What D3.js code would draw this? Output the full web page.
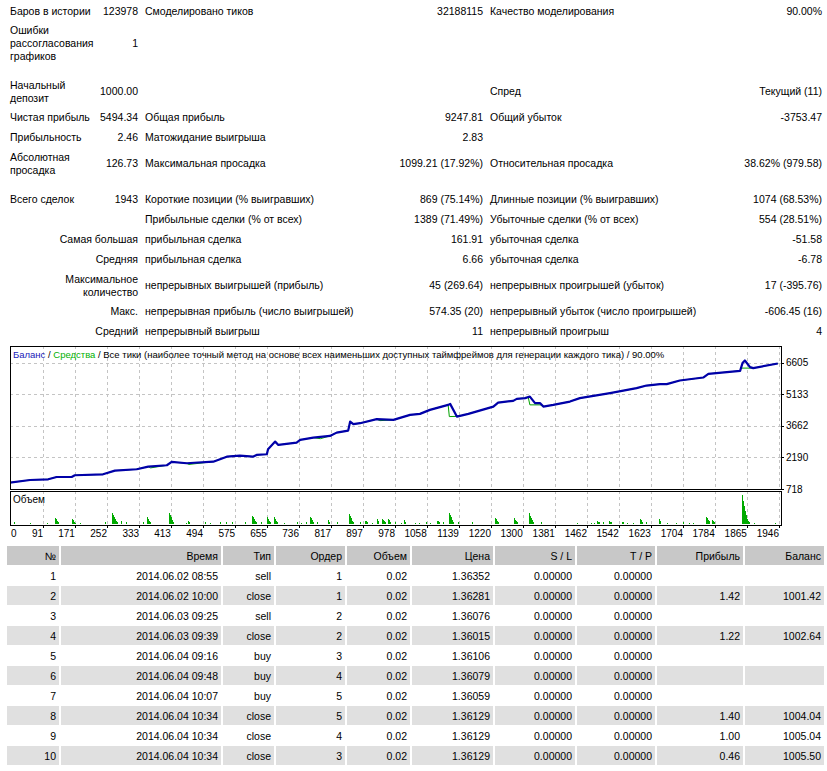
<!doctype html>
<html lang="ru">
<head>
<meta charset="utf-8">
<title>Отчет тестера</title>
<style>
  body { margin: 0; background: #fff; }
  svg { display: block; font-family: "Liberation Sans", Arial, sans-serif; font-size: 10.5px; }
</style>
</head>
<body>
<div id="report"></div>
<script src="https://cdnjs.cloudflare.com/ajax/libs/d3/7.8.5/d3.min.js"></script>
<script>
// summary rows: label1, value1, label2, value2, label3, value3 (null = spacer row)
var statRows = [
  [["Баров в истории"], "123978", "Смоделировано тиков", "32188115", "Качество моделирования", "90.00%"],
  [["Ошибки", "рассогласования", "графиков"], "1", "", "", "", ""],
  null,
  [["Начальный", "депозит"], "1000.00", "", "", "Спред", "Текущий (11)"],
  [["Чистая прибыль"], "5494.34", "Общая прибыль", "9247.81", "Общий убыток", "-3753.47"],
  [["Прибыльность"], "2.46", "Матожидание выигрыша", "2.83", "", ""],
  [["Абсолютная", "просадка"], "126.73", "Максимальная просадка", "1099.21 (17.92%)", "Относительная просадка", "38.62% (979.58)"],
  null,
  [["Всего сделок"], "1943", "Короткие позиции (% выигравших)", "869 (75.14%)", "Длинные позиции (% выигравших)", "1074 (68.53%)"],
  [[""], "", "Прибыльные сделки (% от всех)", "1389 (71.49%)", "Убыточные сделки (% от всех)", "554 (28.51%)"],
  [["Самая большая"], "", "прибыльная сделка", "161.91", "убыточная сделка", "-51.58"],
  [["Средняя"], "", "прибыльная сделка", "6.66", "убыточная сделка", "-6.78"],
  [["Максимальное", "количество"], "", "непрерывных выигрышей (прибыль)", "45 (269.64)", "непрерывных проигрышей (убыток)", "17 (-395.76)"],
  [["Макс."], "", "непрерывная прибыль (число выигрышей)", "574.35 (20)", "непрерывный убыток (число проигрышей)", "-606.45 (16)"],
  [["Средний"], "", "непрерывный выигрыш", "11", "непрерывный проигрыш", "4"]
];
// rows whose first label is right aligned
var rightLabelRows = [10, 11, 12, 13, 14];

// balance curve (trade number, balance)
var balTrade = [0, 58, 104, 125, 163, 171, 242, 272, 327, 356, 403, 415, 453, 520, 554, 587, 620, 629, 655, 658,
  676, 684, 730, 739, 772, 814, 831, 860, 865, 873, 890, 932, 974, 1016, 1041, 1066, 1112, 1117, 1134, 1163,
  1226, 1238, 1276, 1285, 1306, 1318, 1331, 1344, 1352, 1377, 1419, 1444, 1520, 1587, 1612, 1646, 1663, 1696, 1755, 1768,
  1848, 1854, 1860, 1873, 1881, 1943];
var balValue = [1000, 1137, 1170, 1277, 1277, 1357, 1403, 1571, 1637, 1757, 1823, 1976, 1916, 1990, 2223, 2270, 2223, 2303, 2335, 2568,
  2923, 2769, 2876, 3002, 3109, 3188, 3342, 3435, 3855, 3734, 3780, 3967, 3934, 4167, 4214, 4400, 4633, 4680, 4088, 4214,
  4554, 4740, 4820, 4913, 4946, 5020, 4712, 4712, 4554, 4633, 4787, 4946, 5179, 5412, 5533, 5598, 5598, 5766, 5906, 6078,
  6218, 6577, 6698, 6390, 6344, 6560];

// equity curve
var eqTrade = [0, 58, 104, 125, 163, 171, 242, 272, 327, 356, 362, 403, 415, 453, 458, 520, 554, 587, 620, 629,
  655, 658, 676, 684, 730, 739, 772, 790, 814, 831, 860, 865, 873, 890, 932, 940, 974, 1016, 1041, 1066,
  1112, 1115, 1137, 1163, 1226, 1238, 1276, 1285, 1306, 1314, 1318, 1344, 1352, 1377, 1419, 1444, 1520, 1587, 1612, 1646,
  1663, 1696, 1755, 1768, 1848, 1850, 1873, 1881, 1943];
var eqValue = [1000, 1137, 1170, 1277, 1277, 1357, 1403, 1571, 1637, 1757, 1700, 1823, 1976, 1916, 1860, 1990, 2223, 2270, 2223, 2303,
  2335, 2568, 2923, 2769, 2876, 3002, 3109, 3060, 3188, 3342, 3435, 3855, 3734, 3780, 3967, 3900, 3934, 4167, 4214, 4400,
  4633, 4088, 4100, 4214, 4554, 4740, 4820, 4913, 4946, 4980, 4633, 4633, 4554, 4633, 4787, 4946, 5179, 5412, 5533, 5598,
  5598, 5766, 5906, 6078, 6218, 6344, 6344, 6344, 6560];

// open volume (trade number, lots)
var volTrade = [18, 58, 101, 121, 124, 126, 129, 164, 166, 169, 171, 184, 247, 265, 267, 270, 272, 275, 277, 287, 300, 343,
  353, 355, 358, 360, 408, 411, 413, 416, 418, 451, 456, 459, 499, 512, 537, 552, 567, 600, 618, 620, 623, 625, 628, 640,
  655, 658, 660, 663, 673, 676, 678, 681, 698, 731, 741, 754, 764, 766, 769, 771, 781, 809, 812, 832, 862, 865, 867, 870, 872,
  890, 902, 905, 907, 920, 933, 935, 945, 948, 950, 953, 960, 963, 965, 978, 993, 1001, 1003, 1028, 1039, 1056, 1066,
  1084, 1086, 1089, 1099, 1114, 1117, 1119, 1122, 1124, 1137, 1172, 1230, 1233, 1235, 1238, 1278, 1280, 1283, 1286,
  1316, 1318, 1321, 1323, 1326, 1346, 1437, 1472, 1480, 1487, 1490, 1492, 1502, 1517, 1520, 1522, 1550, 1553, 1563, 1578,
  1596, 1598, 1601, 1611, 1644, 1646, 1664, 1686, 1704, 1719, 1729, 1762, 1765, 1767, 1770, 1777, 1780, 1782,
  1853, 1855, 1858, 1860, 1863, 1865, 1868, 1870, 1883, 1936];
var volLots = [0.04, 0.02, 0.02, 0.12, 0.10, 0.06, 0.04, 0.10, 0.08, 0.04, 0.02, 0.02, 0.04, 0.22, 0.18, 0.14, 0.10, 0.06, 0.04, 0.06, 0.04, 0.04,
  0.14, 0.10, 0.06, 0.04, 0.22, 0.18, 0.14, 0.08, 0.04, 0.02, 0.06, 0.04, 0.04, 0.02, 0.04, 0.04, 0.04, 0.04, 0.16, 0.14, 0.10, 0.06, 0.04, 0.04,
  0.14, 0.10, 0.06, 0.04, 0.14, 0.10, 0.06, 0.04, 0.02, 0.04, 0.02, 0.04, 0.14, 0.12, 0.08, 0.04, 0.04, 0.08, 0.04, 0.04, 0.20, 0.16, 0.12, 0.06, 0.04,
  0.04, 0.06, 0.06, 0.04, 0.02, 0.10, 0.06, 0.10, 0.08, 0.06, 0.04, 0.10, 0.08, 0.04, 0.04, 0.02, 0.08, 0.04, 0.02, 0.02, 0.04, 0.02,
  0.06, 0.06, 0.04, 0.04, 0.22, 0.18, 0.14, 0.08, 0.04, 0.04, 0.04, 0.12, 0.10, 0.06, 0.04, 0.12, 0.08, 0.06, 0.04,
  0.22, 0.16, 0.12, 0.08, 0.04, 0.04, 0.02, 0.02, 0.02, 0.06, 0.04, 0.04, 0.04, 0.06, 0.04, 0.04, 0.04, 0.04, 0.02, 0.02,
  0.10, 0.08, 0.04, 0.04, 0.10, 0.06, 0.02, 0.02, 0.04, 0.02, 0.02, 0.14, 0.12, 0.08, 0.06, 0.08, 0.06, 0.04,
  0.58, 0.46, 0.36, 0.26, 0.18, 0.10, 0.06, 0.04, 0.02, 0.02];

var balTicks = [718, 2190, 3662, 5133, 6605];
var tradeTicks = [0, 91, 171, 252, 333, 413, 494, 575, 655, 736, 817, 897, 978, 1058, 1139, 1220, 1300, 1381, 1462, 1542, 1623, 1704, 1784, 1865, 1946];
var chartTitle = ["Баланс", " / ", "Средства", " / Все тики (наиболее точный метод на основе всех наименьших доступных таймфреймов для генерации каждого тика) / 90.00%"];

// deals table
var dealHeader = ["№", "Время", "Тип", "Ордер", "Объем", "Цена", "S / L", "T / P", "Прибыль", "Баланс"];
var dealNo = [1, 2, 3, 4, 5, 6, 7, 8, 9, 10];
var dealTime = ["2014.06.02 08:55", "2014.06.02 10:00", "2014.06.03 09:25", "2014.06.03 09:39", "2014.06.04 09:16",
  "2014.06.04 09:48", "2014.06.04 10:07", "2014.06.04 10:34", "2014.06.04 10:34", "2014.06.04 10:34"];
var dealType = ["sell", "close", "sell", "close", "buy", "buy", "buy", "close", "close", "close"];
var dealOrder = [1, 1, 2, 2, 3, 4, 5, 5, 4, 3];
var dealLots = ["0.02", "0.02", "0.02", "0.02", "0.02", "0.02", "0.02", "0.02", "0.02", "0.02"];
var dealPrice = ["1.36352", "1.36281", "1.36076", "1.36015", "1.36106", "1.36079", "1.36059", "1.36129", "1.36129", "1.36129"];
var dealSL = ["0.00000", "0.00000", "0.00000", "0.00000", "0.00000", "0.00000", "0.00000", "0.00000", "0.00000", "0.00000"];
var dealTP = ["0.00000", "0.00000", "0.00000", "0.00000", "0.00000", "0.00000", "0.00000", "0.00000", "0.00000", "0.00000"];
var dealProfit = ["", "1.42", "", "1.22", "", "", "", "1.40", "1.00", "0.46"];
var dealBalance = ["", "1001.42", "", "1002.64", "", "", "", "1004.04", "1005.04", "1005.50"];

var W = 827, H = 771;
var svg = d3.select("#report").append("svg").attr("width", W).attr("height", H);

// ---- summary block
var colX = {l1: 10, v1: 138, l2: 145, v2: 483, l3: 490, v3: 822};
var yTop = 1;
var stats = svg.append("g");
statRows.forEach(function(r, i) {
  if (!r) { yTop += 10; return; }
  var lines = r[0].length;
  var h = lines === 1 ? 20 : 12 * lines + 8;
  var cy = yTop + h / 2;
  var right = rightLabelRows.indexOf(i) >= 0;
  r[0].forEach(function(t, k) {
    stats.append("text")
      .attr("x", right ? colX.v1 : colX.l1)
      .attr("y", cy + (k - (lines - 1) / 2) * 13)
      .attr("text-anchor", right ? "end" : "start")
      .attr("dominant-baseline", "central")
      .text(t);
  });
  [["v1", r[1], "end"], ["l2", r[2], "start"], ["v2", r[3], "end"], ["l3", r[4], "start"], ["v3", r[5], "end"]].forEach(function(c) {
    if (!c[1]) return;
    stats.append("text")
      .attr("x", colX[c[0]]).attr("y", cy)
      .attr("text-anchor", c[2])
      .attr("dominant-baseline", "central")
      .text(c[1]);
  });
  yTop += h;
});

// ---- chart
var left = 10, right = 781, mainTop = 346, mainBottom = 489, volTop = 491, volBottom = 525;

var x = d3.scaleLinear().domain([0, 1946]).range([7, 779]);
var y = d3.scaleLinear().domain([718, 6605]).range([489, 362.5]);
var vy = d3.scaleLinear().domain([0, 0.66]).range([524, 491]);

svg.append("clipPath").attr("id", "mainclip")
  .append("rect").attr("x", left).attr("y", mainTop).attr("width", right - left).attr("height", mainBottom - mainTop);

var grid = svg.append("g").attr("stroke", "#c4c4c4").attr("stroke-dasharray", "3,3").attr("shape-rendering", "crispEdges");
grid.selectAll(".hg").data(balTicks.slice(1)).enter().append("line")
  .attr("x1", left).attr("x2", right)
  .attr("y1", function(d) { return Math.round(y(d)) + 0.5; })
  .attr("y2", function(d) { return Math.round(y(d)) + 0.5; });
grid.selectAll(".vg").data(tradeTicks.slice(1)).enter().append("line")
  .attr("x1", function(d) { return Math.round(x(d)) + 0.5; })
  .attr("x2", function(d) { return Math.round(x(d)) + 0.5; })
  .attr("y1", mainTop).attr("y2", mainBottom);
grid.selectAll(".vg2").data(tradeTicks.slice(1)).enter().append("line")
  .attr("x1", function(d) { return Math.round(x(d)) + 0.5; })
  .attr("x2", function(d) { return Math.round(x(d)) + 0.5; })
  .attr("y1", volTop).attr("y2", volBottom);

var bal = balTrade.map(function(t, i) { return [t, balValue[i]]; });
var eq = eqTrade.map(function(t, i) { return [t, eqValue[i]]; });
var line = d3.line().x(function(d) { return x(d[0]); }).y(function(d) { return y(d[1]); });

var plot = svg.append("g").attr("clip-path", "url(#mainclip)");
plot.append("path").datum(eq).attr("d", line)
  .attr("fill", "none").attr("stroke", "#00a000").attr("stroke-width", 1);
plot.append("path").datum(bal).attr("d", line)
  .attr("fill", "none").attr("stroke", "#0000a8").attr("stroke-width", 2.2).attr("stroke-linejoin", "round");

// volume bars
svg.append("g").selectAll("rect").data(volTrade).enter().append("rect")
  .attr("x", function(d) { return Math.round(x(d)); })
  .attr("width", 1)
  .attr("y", function(d, i) { return vy(volLots[i]); })
  .attr("height", function(d, i) { return vy(0) - vy(volLots[i]); })
  .attr("fill", "#00aa00")
  .attr("shape-rendering", "crispEdges");

// frames
svg.append("rect").attr("x", left + 0.5).attr("y", mainTop + 0.5)
  .attr("width", right - left).attr("height", mainBottom - mainTop)
  .attr("fill", "none").attr("stroke", "#000").attr("shape-rendering", "crispEdges");
svg.append("rect").attr("x", left + 0.5).attr("y", volTop + 0.5)
  .attr("width", right - left).attr("height", volBottom - volTop)
  .attr("fill", "none").attr("stroke", "#000").attr("shape-rendering", "crispEdges");

// title
var title = svg.append("text").attr("x", 13).attr("y", 354)
  .attr("dominant-baseline", "central").style("font-size", "9.5px");
var titleColors = ["#2020b8", "#000", "#00b000", "#000"];
chartTitle.forEach(function(t, i) {
  title.append("tspan").attr("fill", titleColors[i]).text(t);
});
svg.append("text").attr("x", 13).attr("y", 499).attr("dominant-baseline", "central")
  .style("font-size", "10px").text("Объем");

// y axis labels
var ya = svg.append("g");
ya.selectAll("line").data(balTicks).enter().append("line")
  .attr("x1", right + 1).attr("x2", right + 3)
  .attr("y1", function(d) { return Math.round(y(d)) + 0.5; })
  .attr("y2", function(d) { return Math.round(y(d)) + 0.5; })
  .attr("stroke", "#000");
ya.selectAll("text").data(balTicks).enter().append("text")
  .attr("x", right + 5).attr("y", function(d) { return y(d); })
  .attr("dominant-baseline", "central")
  .style("font-size", "10px")
  .text(function(d) { return d; });

// x axis labels
var xa = svg.append("g");
xa.selectAll("line").data(tradeTicks.slice(1)).enter().append("line")
  .attr("x1", function(d) { return Math.round(x(d)) + 0.5; })
  .attr("x2", function(d) { return Math.round(x(d)) + 0.5; })
  .attr("y1", volBottom + 1).attr("y2", volBottom + 3)
  .attr("stroke", "#000");
xa.selectAll("text").data(tradeTicks).enter().append("text")
  .attr("x", function(d) { return d === 0 ? left + 1 : x(d); })
  .attr("y", 533)
  .attr("text-anchor", function(d) { return d === 0 ? "start" : "end"; })
  .attr("dominant-baseline", "central")
  .style("font-size", "10px")
  .text(function(d) { return d; });

// ---- deals table
var colEdges = [7, 61, 223, 276, 347, 412, 495, 577, 657, 745, 826];
var headTop = 546, rowH = 20;
var cols = [dealNo, dealTime, dealType, dealOrder, dealLots, dealPrice, dealSL, dealTP, dealProfit, dealBalance];
var table = svg.append("g");

function drawRow(cells, top, bg) {
  cells.forEach(function(c, j) {
    var x0 = colEdges[j], x1 = colEdges[j + 1] - 2;
    if (bg) {
      table.append("rect").attr("x", x0).attr("y", top).attr("width", x1 - x0).attr("height", rowH - 1)
        .attr("fill", bg);
    }
    table.append("text").attr("x", x1 - 3).attr("y", top + (rowH - 1) / 2)
      .attr("text-anchor", "end").attr("dominant-baseline", "central")
      .text(c);
  });
}
drawRow(dealHeader, headTop, "#c8c8c8");
dealNo.forEach(function(n, i) {
  drawRow(cols.map(function(c) { return c[i]; }), headTop + rowH * (i + 1), i % 2 === 1 ? "#e0e0e0" : null);
});
</script>
</body>
</html>
